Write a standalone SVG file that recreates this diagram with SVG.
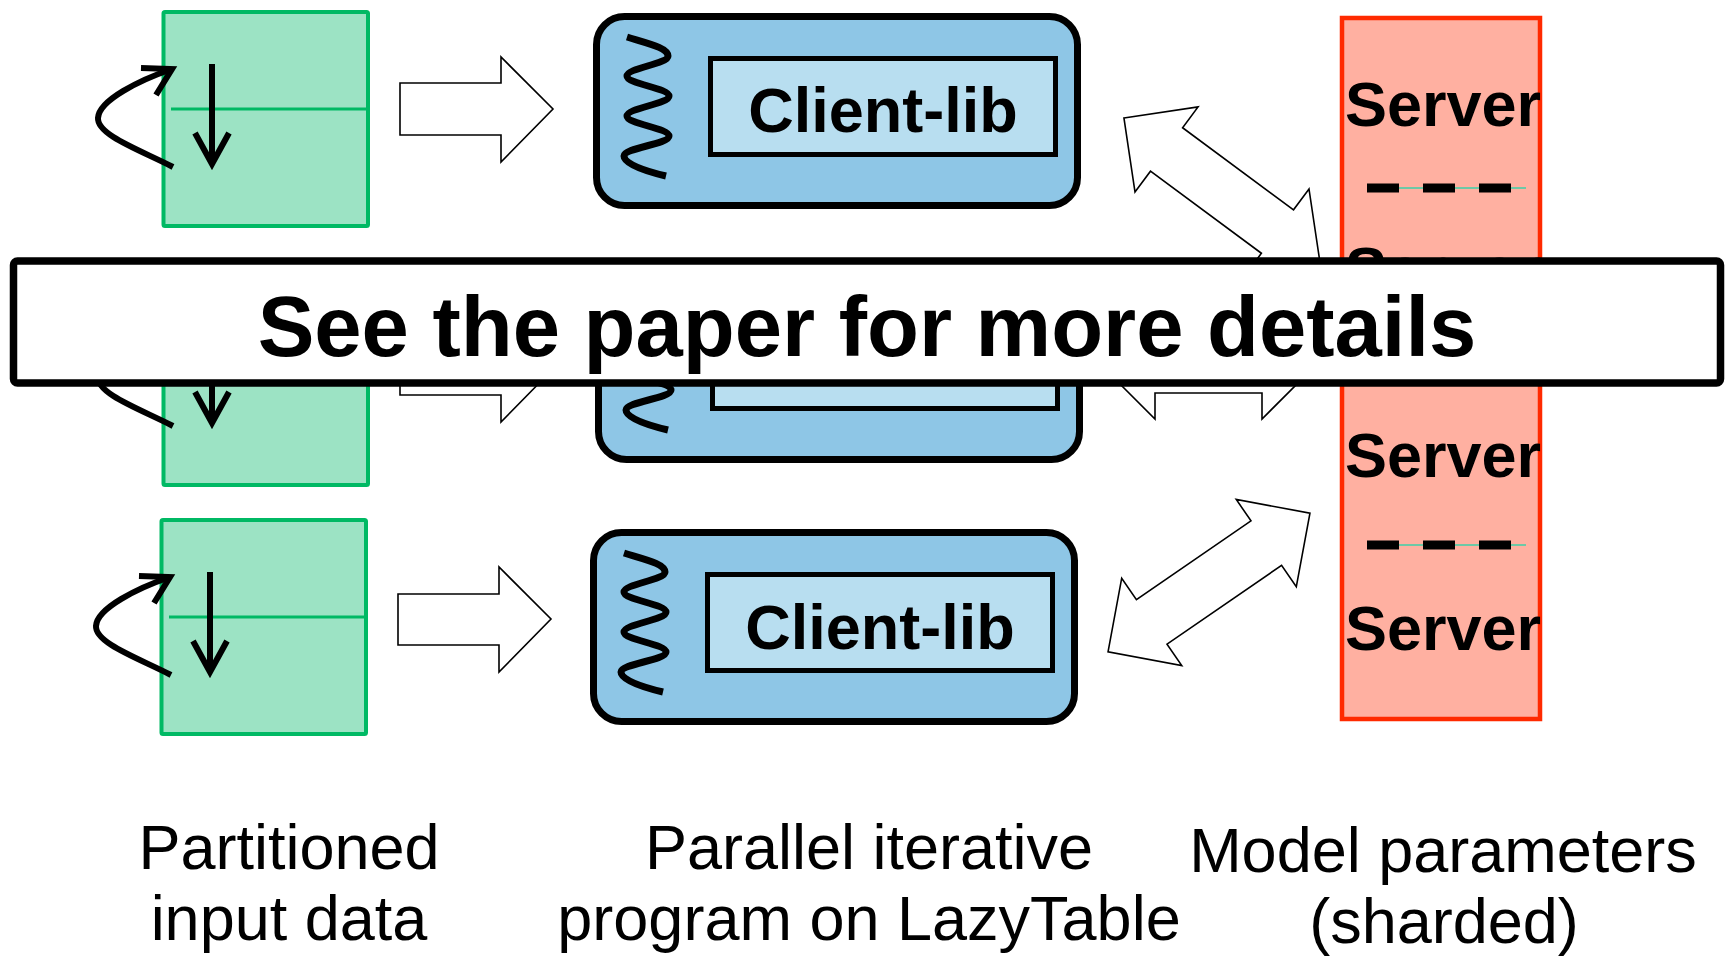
<svg xmlns="http://www.w3.org/2000/svg" width="1729" height="956" viewBox="0 0 1729 956">
  <style>
    .part{fill:#9CE3C4;stroke:#00B964;stroke-width:4}
    .divider{stroke:#00B964;stroke-width:3}
    .pen{fill:none;stroke:#000;stroke-width:6;stroke-linejoin:miter;stroke-miterlimit:10}
    .client{fill:#8EC6E6;stroke:#000;stroke-width:7}
    .lib{fill:#B8DEF0;stroke:#000;stroke-width:5}
    .wave{fill:none;stroke:#000;stroke-width:7}
    .block{fill:#fff;stroke:#000;stroke-width:1.6;stroke-linejoin:miter}
    .server{fill:#FFB0A1;stroke:#FF2A00;stroke-width:4.5}
    .rule{stroke:#3CD0A8;stroke-width:1.5}
    .dash{stroke:#000;stroke-width:9;stroke-dasharray:32 24}
    .bold{font-family:"Liberation Sans",Arial,sans-serif;font-weight:bold;fill:#000;text-anchor:middle}
    .label{font-family:"Liberation Sans",Arial,sans-serif;font-size:63px;fill:#000;text-anchor:middle}
  </style>
  <defs>
    <!-- one data partition with its scan loop -->
    <g id="partition">
      <rect class="part" x="163.5" y="12" width="204.5" height="214" rx="1.5"/>
      <line class="divider" x1="171" y1="109" x2="368" y2="109"/>
      <path class="pen" d="M212,64 V160"/>
      <polyline class="pen" points="195,133 212,164 229,133"/>
      <path class="pen" d="M173,167 C140,150 97,135 98,118 C99,100 140,80 172,69"/>
      <polyline class="pen" points="141,68 172,69 156,95"/>
    </g>
    <!-- worker box with thread squiggle and library panel -->
    <g id="worker">
      <rect class="client" x="596.5" y="16.5" width="481" height="189" rx="28"/>
      <rect class="lib" x="710.5" y="58.5" width="345" height="96"/>
      <path class="wave" d="M627,37 C650,44 668,48 668,56 C668,64 627,68 627,76 C627,84 669,88 669,96 C669,104 627,108 627,116 C627,124 669,128 669,136 C669,144 624,148 624,156 C624,164 645,171 666,176"/>
    </g>
  </defs>

  <!-- partitioned input data -->
  <g id="partition-1"><use href="#partition"/></g>
  <g id="partition-2"><use href="#partition" transform="translate(0,259)"/></g>
  <g id="partition-3"><use href="#partition" transform="translate(-2,508)"/></g>

  <!-- workers -->
  <g id="worker-1">
    <use href="#worker"/>
    <text class="bold" x="883" y="132" font-size="63">Client-lib</text>
  </g>
  <g id="worker-2"><use href="#worker" transform="translate(2,254)"/></g>
  <g id="worker-3">
    <use href="#worker" transform="translate(-3,516)"/>
    <text class="bold" x="880" y="649" font-size="63">Client-lib</text>
  </g>

  <!-- sharded parameter servers -->
  <g id="servers">
    <rect class="server" x="1342" y="18" width="198" height="701"/>
    <text class="bold" x="1443" y="126" font-size="63">Server</text>
    <line class="rule" x1="1367" y1="188" x2="1526" y2="188"/>
    <line class="dash" x1="1367" y1="188" x2="1511" y2="188"/>
    <text class="bold" x="1443" y="291" font-size="63">Server</text>
    <text class="bold" x="1443" y="477" font-size="63">Server</text>
    <line class="rule" x1="1367" y1="545" x2="1526" y2="545"/>
    <line class="dash" x1="1367" y1="545" x2="1511" y2="545"/>
    <text class="bold" x="1443" y="650" font-size="63">Server</text>
  </g>

  <!-- connectors -->
  <g id="connectors">
    <polygon class="block" points="400,83 501,83 501,57 553,109 501,162 501,135 400,135"/>
    <polygon class="block" points="400,343 501,343 501,316 553,369 501,422 501,395 400,395"/>
    <polygon class="block" points="398,594 499,594 499,567 551,619 499,672 499,645 398,645"/>
    <polygon class="block" transform="translate(1222,190.5) rotate(36.5)" points="-122,0 -69,-53 -69,-27 69,-27 69,-53 122,0 69,53 69,27 -69,27 -69,53"/>
    <polygon class="block" transform="translate(1208.5,366)" points="-106.5,0 -53.5,-53 -53.5,-27 53.5,-27 53.5,-53 106.5,0 53.5,53 53.5,27 -53.5,27 -53.5,53"/>
    <polygon class="block" transform="translate(1209,582.5) rotate(-34.5)" points="-122.5,0 -69.5,-53 -69.5,-27 69.5,-27 69.5,-53 122.5,0 69.5,53 69.5,27 -69.5,27 -69.5,53"/>
  </g>

  <!-- column captions -->
  <g id="captions">
    <text class="label" x="289" y="869">Partitioned</text>
    <text class="label" x="289" y="940">input data</text>
    <text class="label" x="869" y="869">Parallel iterative</text>
    <text class="label" x="869" y="940">program on LazyTable</text>
    <text class="label" x="1443" y="872">Model parameters</text>
    <text class="label" x="1444" y="943">(sharded)</text>
  </g>

  <!-- notice banner -->
  <g id="banner">
    <rect x="13.5" y="261" width="1707" height="122" rx="4" fill="#fff" stroke="#000" stroke-width="7.5"/>
    <text class="bold" x="867" y="356" font-size="85">See the paper for more details</text>
  </g>
</svg>
